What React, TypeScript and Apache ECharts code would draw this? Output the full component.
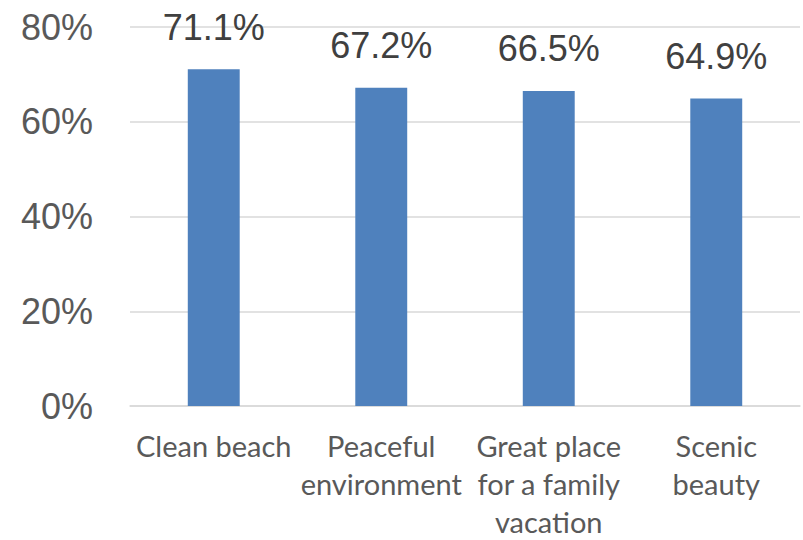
import React, { useEffect, useRef } from "react";
import * as echarts from "echarts";

const categories = [
  "Clean beach",
  "Peaceful\nenvironment",
  "Great place\nfor a family\nvacation",
  "Scenic\nbeauty",
];
const shares = [0.711, 0.672, 0.665, 0.649];
const yTicks = [0, 0.2, 0.4, 0.6, 0.8];

export default function App() {
  const ref = useRef<HTMLDivElement>(null);

  useEffect(() => {
    if (!ref.current) return;
    const chart = echarts.init(ref.current, undefined, { renderer: "svg" });
    chart.setOption({
      animation: false,
      grid: { left: 130, right: 3, top: 27, bottom: 131, containLabel: false },
      xAxis: {
        type: "category",
        data: categories,
        axisLine: { show: true, lineStyle: { color: "#D9D9D9", width: 1.5 } },
        axisTick: { show: false },
        axisLabel: {
          interval: 0,
          color: "#595959",
          fontFamily: "Lato",
          fontSize: 29,
          lineHeight: 38,
          margin: 20,
        },
      },
      yAxis: {
        type: "value",
        min: yTicks[0],
        max: yTicks[yTicks.length - 1],
        interval: 0.2,
        axisLine: { show: false },
        axisTick: { show: false },
        splitLine: { lineStyle: { color: "#D9D9D9", width: 1.5 } },
        axisLabel: {
          color: "#595959",
          fontFamily: "Liberation Sans",
          fontSize: 36,
          margin: 37,
          formatter: (v: number) => `${Math.round(v * 100)}%`,
        },
      },
      series: [
        {
          type: "bar",
          data: shares,
          barWidth: "31%",
          itemStyle: { color: "#4F81BD" },
          label: {
            show: true,
            position: "top",
            distance: 24,
            color: "#404040",
            fontFamily: "Liberation Sans",
            fontSize: 36,
            formatter: (p: any) => `${(p.value * 100).toFixed(1)}%`,
          },
        },
      ],
    });
    return () => chart.dispose();
  }, []);

  return (
    <div
      ref={ref}
      style={{ position: "absolute", left: 0, top: 0, width: 803, height: 540 }}
    />
  );
}
